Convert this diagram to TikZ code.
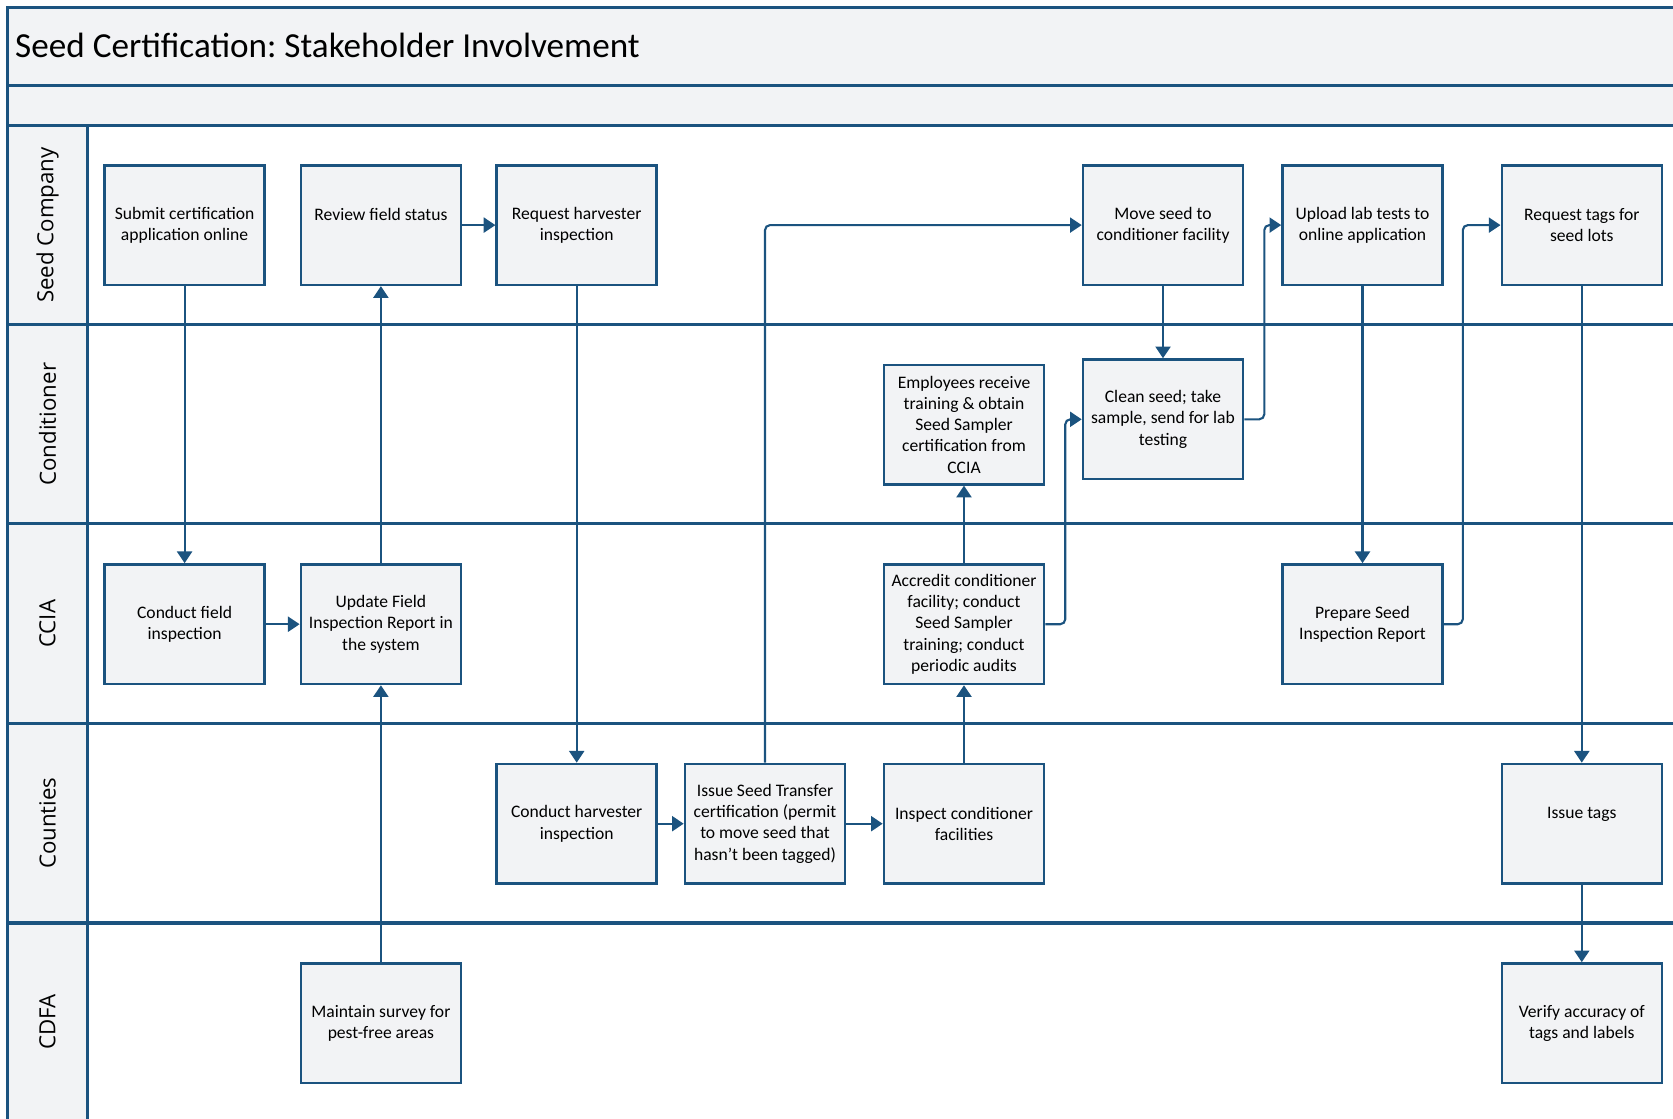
\documentclass[tikz,border=0pt]{standalone}
\usepackage{fontspec}
\setmainfont{Carlito}
\newfontfamily\lanefont{Open Sans}
\usetikzlibrary{arrows.meta}
\frenchspacing

\definecolor{laneblue}{RGB}{27,83,127}
\definecolor{lanegray}{RGB}{242,243,245}

\tikzset{
  task/.style={draw=laneblue, line width=2.2pt, fill=lanegray, minimum width=4.8cm, minimum height=3.585cm,
    inner sep=0pt, align=center, font=\fontsize{15pt}{18.2pt}\selectfont},
  flow/.style={draw=laneblue, line width=1.8pt, -{Triangle[length=3.5mm,width=4.5mm]}, rounded corners=1.5mm},
  lane/.style={draw=laneblue, line width=2.6pt},
  lanelabel/.style={rotate=90, inner sep=0pt, font=\lanefont\fontsize{19pt}{23pt}\selectfont}
}

\begin{document}
\begin{tikzpicture}[x=0.03cm, y=-0.03cm]
\useasboundingbox (0,0) rectangle (1673,1119);
\clip (0,0) rectangle (1673,1119);

% Header bands and label column
\fill[lanegray] (7.5,7.5) rectangle (1700,125.9);
\fill[lanegray] (7.5,125.9) rectangle (87.5,1140);
\node[anchor=west, inner sep=0pt, font=\fontsize{30pt}{36pt}\selectfont] (title) at (15,45.9) {Seed Certification: Stakeholder Involvement};

% Lane lines
\draw[lane] (7.5,1140) -- (7.5,7.5) -- (1700,7.5);
\foreach \y in {85.4,125.9,324.4,523.9,723.4,923.0}
  \draw[lane] (7.5,\y) -- (1700,\y);
\draw[lane] (87.5,125.9) -- (87.5,1140);

% Lane labels
\foreach \y/\name [count=\i] in {225.1/Seed Company, 424.2/Conditioner, 623.7/CCIA, 823.2/Counties, 1022/CDFA}
  \node[lanelabel] (lane\i) at (47.5,\y) {\name};

% Seed Company
\node[task] (submit) at (184.6,225.1) {Submit certification\\application online};
\node[task] (review) at (380.9,225.1) {Review field status\\~};
\node[task] (reqharv) at (576.7,225.1) {Request harvester\\inspection};
\node[task] (move) at (1163,225.1) {Move seed to\\conditioner facility};
\node[task] (upload) at (1362.5,225.1) {Upload lab tests to\\online application};
\node[task] (reqtags) at (1581.8,225.1) {Request tags for\\seed lots};

% Conditioner
\node[task] (employees) at (964,424.6) {Employees receive\\training \& obtain\\Seed Sampler\\certification from\\CCIA};
\node[task] (clean) at (1163,419.3) {Clean seed; take\\sample, send for lab\\testing};

% CCIA
\node[task] (fieldinsp) at (184.6,624.2) {Conduct field\\inspection};
\node[task] (update) at (380.9,624.2) {Update Field\\Inspection Report in\\the system};
\node[task] (accredit) at (964,624.2) {Accredit conditioner\\facility; conduct\\Seed Sampler\\training; conduct\\periodic audits};
\node[task] (prepare) at (1362.5,624.2) {Prepare Seed\\Inspection Report};

% Counties
\node[task] (harvinsp) at (576.7,823.7) {Conduct harvester\\inspection};
\node[task] (transfer) at (765,823.7) {Issue Seed Transfer\\certification (permit\\to move seed that\\hasn't been tagged)};
\node[task] (inspcond) at (964,823.7) {Inspect conditioner\\facilities};
\node[task] (issuetags) at (1581.8,823.7) {Issue tags\\~};

% CDFA
\node[task] (survey) at (380.9,1023.2) {Maintain survey for\\pest-free areas};
\node[task] (verify) at (1581.8,1023.2) {Verify accuracy of\\tags and labels};

% Connectors
\draw[flow] (submit.south) -- (fieldinsp.north);
\draw[flow] (fieldinsp.east) -- (update.west);
\draw[flow] (update.north) -- (review.south);
\draw[flow] (survey.north) -- (update.south);
\draw[flow] (review.east) -- (reqharv.west);
\draw[flow] (reqharv.south) -- (harvinsp.north);
\draw[flow] (harvinsp.east) -- (transfer.west);
\draw[flow] (transfer.north) |- (move.west);
\draw[flow] (transfer.east) -- (inspcond.west);
\draw[flow] (inspcond.north) -- (accredit.south);
\draw[flow] (accredit.north) -- (employees.south);
\draw[flow] (accredit.east) -- ++(20,0) |- (clean.west);
\draw[flow] (move.south) -- (clean.north);
\draw[flow] (clean.east) -- ++(20,0) |- (upload.west);
\draw[flow] (upload.south) -- (prepare.north);
\draw[flow] (prepare.east) -- ++(19,0) |- (reqtags.west);
\draw[flow] (reqtags.south) -- (issuetags.north);
\draw[flow] (issuetags.south) -- (verify.north);
\end{tikzpicture}
\end{document}
